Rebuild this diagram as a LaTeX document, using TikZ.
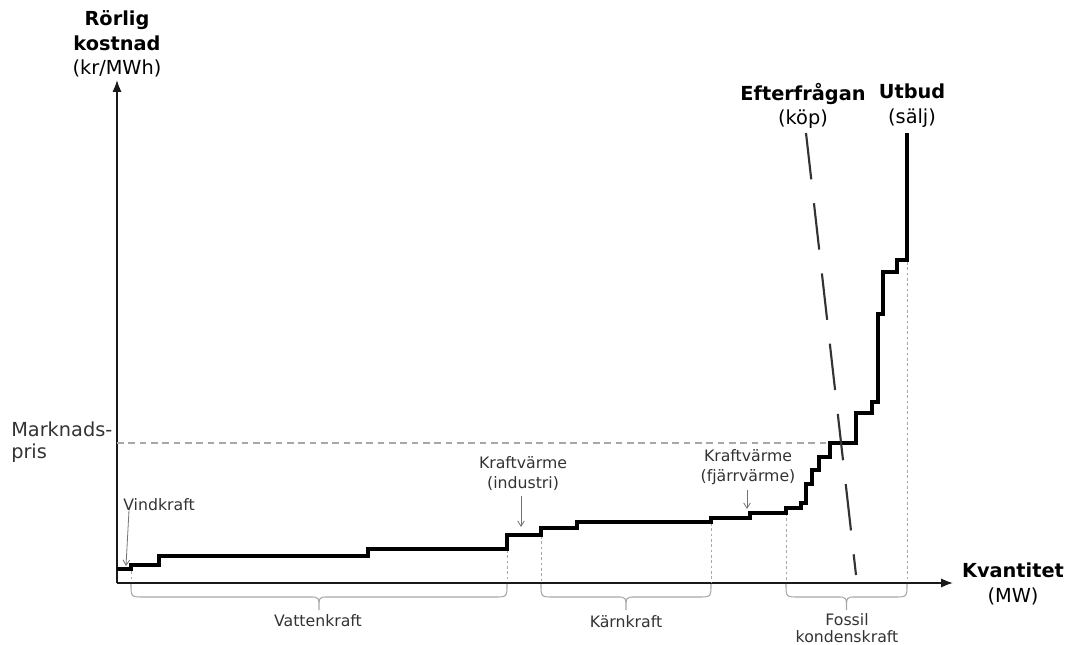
\documentclass[tikz,border=0pt]{standalone}
\usepackage{fontspec}
\setmainfont{DejaVu Sans}
\usetikzlibrary{arrows.meta}
\definecolor{txt}{HTML}{333333}
\definecolor{guide}{HTML}{A8A8A8}
\begin{document}
\begin{tikzpicture}[x=0.75pt,y=-0.75pt,
  small/.style={font=\fontsize{11.8}{15}\selectfont,text=txt,inner sep=0pt,align=center},
  big/.style={font=\fontsize{14.5}{18.5}\selectfont,inner sep=0pt,align=center},
  axis/.style={line width=1.3pt,draw=black!90,-{Latex[length=9pt,width=7pt]}},
  supply/.style={line width=3.2pt,line join=miter,draw=black},
  demand/.style={line width=1.6pt,draw=black!80,dash pattern=on 35pt off 18pt},
  guideline/.style={line width=0.6pt,draw=guide,dash pattern=on 2pt off 2pt},
  priceline/.style={line width=0.8pt,draw=guide,dash pattern=on 5pt off 3.5pt},
  brace/.style={line width=0.8pt,draw=guide},
  pointer/.style={line width=0.6pt,draw=black!55,-{Straight Barb[length=4pt,width=5pt]}}]
\useasboundingbox (0,0) rectangle (1067,645);

% axes
\coordinate (O) at (117,583);
\coordinate (ytop) at (117,80);
\coordinate (xend) at (953,583);
\draw[axis] (O) -- (ytop);
\draw[axis] (O) -- (xend);

% market price line
\coordinate (p0) at (117,443);
\coordinate (p1) at (830,443);
\draw[priceline] (p0) -- (p1);

% guide lines
\foreach \x/\y in {131/566,507/550,541/536,711/523,786/513,907/262}
  \draw[guideline] (\x,\y) -- (\x,582);

% supply step curve
\draw[supply] (117,569) -- (131,569) -- (131,565) -- (159,565) -- (159,556)
  -- (368,556) -- (368,549) -- (507,549) -- (507,535) -- (541,535) -- (541,528)
  -- (577,528) -- (577,522) -- (711,522) -- (711,518) -- (750,518) -- (750,513)
  -- (786,513) -- (786,508) -- (801,508) -- (801,503) -- (806,503) -- (806,484)
  -- (812,484) -- (812,470) -- (819,470) -- (819,457) -- (830,457) -- (830,443)
  -- (856,443) -- (856,413) -- (872,413) -- (872,402) -- (878,402) -- (878,314)
  -- (883,314) -- (883,272) -- (897,272) -- (897,260) -- (907,260) -- (907,133);

% demand line
\coordinate (d0) at (806,133);
\coordinate (d1) at (856,575);
\draw[demand] (d0) -- (d1);

% braces
\foreach \a/\b in {131/507,541/711,786/907}{
  \pgfmathsetmacro{\m}{(\a+\b)/2}
  \draw[brace] (\a,584) .. controls (\a,597) .. (\a+13,597) -- (\m-9,597)
    .. controls (\m,597) .. (\m,610) .. controls (\m,597) .. (\m+9,597)
    -- (\b-13,597) .. controls (\b,597) .. (\b,584);
}

% axis labels
\node[big] (ylab) at (117,44) {\textbf{Rörlig}\\\textbf{kostnad}\\(kr/MWh)};
\node[big] (dem) at (803,106) {\textbf{Efterfrågan}\\(köp)};
\node[big] (sup) at (912,106) {\textbf{Utbud}\\(sälj)};
\node[big] (xlab) at (1013,584) {\textbf{Kvantitet}\\(MW)};
\node[big,text=txt,anchor=west,align=left,font=\fontsize{14.5}{16}\selectfont] (mp) at (11,442) {Marknads-\\pris};

% source labels
\node[small,anchor=west] (vind) at (123,505) {Vindkraft};
\coordinate (vindpt) at (126,566);
\draw[pointer] (vind.south west) ++(6,-1) -- (vindpt);

\node[small] (kvi) at (523,474) {Kraftvärme\\(industri)};
\coordinate (kvipt) at (521,527);
\draw[pointer] (kvi.south -| kvipt) ++(0,5) -- (kvipt);

\node[small] (kvf) at (748,467) {Kraftvärme\\(fjärrvärme)};
\coordinate (kvfpt) at (747,509);
\draw[pointer] (kvf.south -| kvfpt) ++(0,5) -- (kvfpt);

\node[small] (vatten) at (318,621) {Vattenkraft};
\node[small] (karn) at (626,622) {Kärnkraft};
\node[small,font=\fontsize{11.8}{12.6}\selectfont] (fossil) at (847,628) {Fossil\\kondenskraft};
\end{tikzpicture}
\end{document}
